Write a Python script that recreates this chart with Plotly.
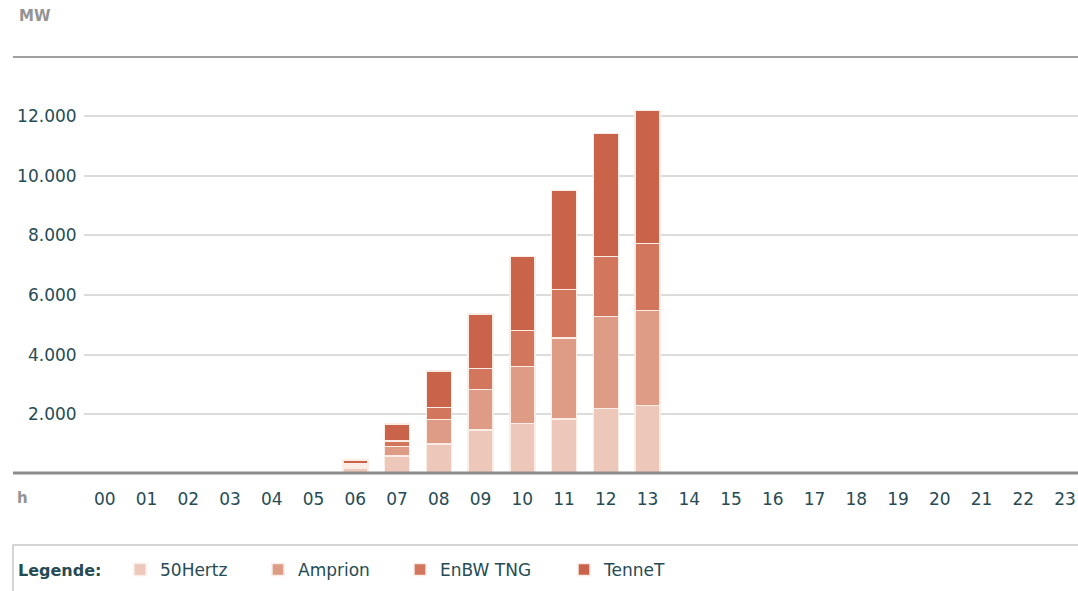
import plotly.graph_objects as go

hours = [f"{h:02d}" for h in range(24)]
series_names = ["50Hertz", "Amprion", "EnBW TNG", "TenneT"]
v_50hertz = [None]*6 + [200, 600, 1000, 1470, 1700, 1850, 2190, 2300] + [None]*10
v_amprion = [None]*6 + [70, 330, 830, 1370, 1910, 2710, 3090, 3180] + [None]*10
v_enbw = [None]*6 + [60, 180, 400, 690, 1200, 1630, 2020, 2240] + [None]*10
v_tennet = [None]*6 + [140, 570, 1220, 1830, 2490, 3310, 4120, 4470] + [None]*10
y_ticks = [2000, 4000, 6000, 8000, 10000, 12000]
y_ticklabels = ["2.000", "4.000", "6.000", "8.000", "10.000", "12.000"]

colors = ["#EDC8BA", "#DE9B85", "#D2765E", "#C9644A"]
values = [v_50hertz, v_amprion, v_enbw, v_tennet]

W, H = 1078, 591
L, R, T = 84, 0, 57
B = H - 474
ph = H - T - B
pw = W - L - R

def px_x(x):
    return (x - L) / pw

def px_y(y):
    return (H - B - y) / ph

TXT = "#264b55"
FONT = "DejaVu Sans"
FS = 17

legend_ids = ["legend", "legend2", "legend3", "legend4"]
legend_text_x = [160, 298, 440, 604]

fig = go.Figure()
for name, vals, col, lid in zip(series_names, values, colors, legend_ids):
    fig.add_trace(go.Bar(
        x=hours, y=vals, name=name, legend=lid,
        marker=dict(color=col, line=dict(color="#fbece6", width=1.5)),
        hoverinfo="x+y+name",
    ))

legend_common = dict(
    orientation="h", yanchor="middle", y=px_y(570), xanchor="left",
    font=dict(family=FONT, size=FS, color=TXT),
    bgcolor="rgba(0,0,0,0)", borderwidth=0,
)
legends = {}
for lid, tx in zip(legend_ids, legend_text_x):
    legends[lid] = dict(legend_common, x=px_x(tx - 40))

fig.update_layout(
    width=W, height=H,
    margin=dict(l=L, r=R, t=T, b=B, pad=0),
    barmode="stack", bargap=0.4,
    plot_bgcolor="white", paper_bgcolor="white",
    font=dict(family=FONT, size=FS, color=TXT),
    xaxis=dict(
        type="category", categoryorder="array", categoryarray=hours,
        range=[-0.5, 23.31], showgrid=False, zeroline=False, showline=False,
        ticks="outside", ticklen=10, tickcolor="rgba(0,0,0,0)",
        tickfont=dict(family=FONT, size=FS, color=TXT),
    ),
    yaxis=dict(
        range=[0, 13980], tickvals=y_ticks, ticktext=y_ticklabels,
        showgrid=True, gridcolor="#dcdcdc", gridwidth=1.5,
        zeroline=False, showline=False,
        ticks="outside", ticklen=3, tickcolor="rgba(0,0,0,0)",
        tickfont=dict(family=FONT, size=FS, color=TXT),
    ),
    showlegend=True,
    shapes=[
        dict(type="line", xref="paper", yref="paper", x0=px_x(13), x1=px_x(1090),
             y0=px_y(57), y1=px_y(57), line=dict(color="#a0a0a0", width=2)),
        dict(type="line", xref="paper", yref="paper", x0=px_x(13), x1=px_x(1090),
             y0=px_y(473), y1=px_y(473), line=dict(color="#8c8c8c", width=3)),
        dict(type="rect", xref="paper", yref="paper", x0=px_x(13), x1=px_x(1100),
             y0=px_y(545), y1=px_y(610), line=dict(color="#c8c8c8", width=1.5),
             fillcolor="rgba(0,0,0,0)"),
    ],
    annotations=[
        dict(text="<b>MW</b>", xref="paper", yref="paper", x=px_x(17), y=px_y(16),
             xanchor="left", yanchor="middle", showarrow=False,
             font=dict(family=FONT, size=15, color="#939393")),
        dict(text="<b>h</b>", xref="paper", yref="paper", x=px_x(15), y=px_y(498),
             xanchor="left", yanchor="middle", showarrow=False,
             font=dict(family=FONT, size=15, color="#939393")),
        dict(text="<b>Legende:</b>", xref="paper", yref="paper", x=px_x(16), y=px_y(570),
             xanchor="left", yanchor="middle", showarrow=False,
             font=dict(family=FONT, size=16, color=TXT)),
    ],
    **legends,
)

fig.write_html(
    "out.html",
    config={"displayModeBar": False},
    post_script="document.body.style.margin='0';document.body.style.overflow='hidden';",
)
